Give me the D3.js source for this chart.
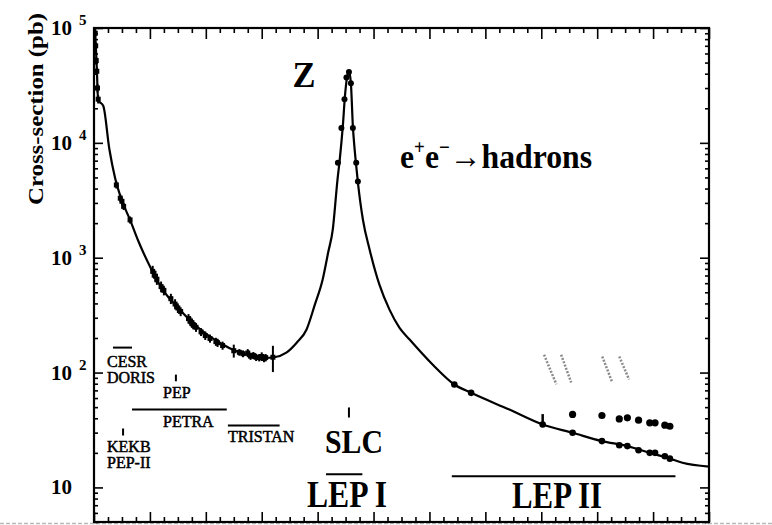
<!DOCTYPE html>
<meta charset="utf-8">
<style>
body { margin: 0; background: #fff; }
svg { display: block; }
text { font-family: "Liberation Serif", "Tinos", "DejaVu Serif", "Times New Roman", serif; }
.axis line { stroke: #000; stroke-width: 1.6px; }
.axis path { display: none; }
</style>
<svg width="772" height="525"></svg>
<script src="https://d3js.org/d3.v7.min.js"></script>
<script>

var serif = "Liberation Serif, Tinos, DejaVu Serif, Times New Roman, serif";

// theory curve (sqrt(s) in GeV, cross-section in pb)
var curveE = [0.36, 1.0, 1.5, 2.1, 3.3, 5.5, 7.5, 9.9, 12.9, 16, 20.6, 24.6, 30.7, 36.7, 45, 51, 56.8, 61, 64.5, 68.8, 72.5, 76, 79, 81.8, 83.8, 85.4, 87.1, 87.9, 89.0, 89.8, 90.5, 91.2, 91.9, 92.6, 93.2, 93.8, 94.5, 95.3, 96.2, 98.6, 102.1, 105.7, 109.3, 112.9, 121.2, 128.9, 134.9, 148.6, 160.5, 171.2, 181.7, 190.8, 198.8, 206, 210.5, 220];
var curveSigma = [100000, 45000, 23000, 22500, 21000, 8800, 5000, 3190, 2135, 1370, 787, 527, 353, 253, 182, 153, 138, 134, 136, 149, 182, 236, 390, 646, 1120, 1750, 4770, 7100, 13900, 26000, 37000, 42000, 33000, 14000, 9000, 6300, 4300, 3000, 2140, 1175, 582, 353, 245, 194, 117, 78.7, 66.6, 47.6, 35.3, 29.9, 25.3, 22.9, 20.0, 17.8, 16.4, 15.2];

// low energy measurements
var lowE = [0.45, 0.6, 0.8, 1.0, 1.25, 1.5, 8.0, 9.4, 10.0, 10.6, 12.9, 21, 22, 22.5, 24, 25, 27.5, 29, 30, 31, 33.8, 34.5, 35, 35.5, 36.5, 38.3, 39.8, 41.5, 43.6, 44.2, 46, 50, 52, 53.3, 55, 56, 57, 58, 59.1, 60, 60.8, 61.4, 64];
var lowSigma = [90000, 70000, 52000, 42000, 30000, 24000, 4300, 3300, 3100, 2800, 2135, 760, 690, 650, 560, 520, 440, 395, 365, 340, 295, 280, 270, 262, 248, 226, 210, 198, 186, 182, 172, 155, 150, 146, 148, 139, 141, 136, 135, 138, 133, 135, 136];
var lowErr = [6000, 5000, 4000, 3000, 2500, 2000, 300, 250, 250, 200, 150, 90, 80, 70, 60, 50, 45, 40, 35, 30, 28, 26, 25, 24, 22, 18, 18, 16, 15, 15, 14, 20, 10, 10, 12, 10, 10, 10, 10, 12, 10, 10, 35];

// Z peak measurements
var peakE = [87.25, 88.5, 89.6, 90.3, 91.2, 91.9, 92.6, 93.8, 94.4];
var peakSigma = [6700, 13500, 24000, 37000, 41400, 33000, 13500, 6700, 4600];

// LEP 1.5 / LEP II measurements
var lepE = [128.9, 134.9, 160.5, 171.2, 181.7, 187.9, 190.8, 194.8, 198.8, 200.7, 204.2, 206.0];
var lepSigma = [78.7, 66.6, 35.3, 29.9, 25.3, 23.3, 22.9, 21.1, 20.0, 20.0, 18.7, 17.8];
var lepHiE = [171.2, 181.7, 187.9, 190.8, 194.8, 198.8, 200.7, 204.2, 206.0];
var lepHiSigma = [43.2, 42.3, 39.5, 40.4, 38.5, 36.5, 36.5, 34.8, 34.1];
var barE = [160.5];
var barLo = [34.5];
var barHi = [43.5];

// faint hatched marks above LEP II points
var hatchE0 = [161.0, 167.1, 181.8, 187.9];
var hatchE1 = [165.4, 170.7, 185.4, 191.4];
var hatchTop = [143, 143, 138, 138];
var hatchBot = [79, 82, 82, 87];

// machines: energy ranges and the level they are drawn at
var rangeNames = ["CESR", "PETRA", "TRISTAN", "LEP I", "LEP II"];
var rangeLo = [6.8, 13.6, 47.9, 83, 128];
var rangeHi = [13.6, 47.5, 66.4, 96, 208];
var rangeSigma = [165, 47.6, 34.6, 13.0, 12.5];
var pointNames = ["PEP", "KEKB", "SLC"];
var pointE = [29.3, 10.4, 91.2];
var pointTop = [96, 32.6, 49.7];
var pointBot = [84, 28.3, 40.6];

var yDecades = [10, 100, 1000, 10000, 100000];
var yExp = [1, 2, 3, 4, 5];

var svg = d3.select("svg");
var x = d3.scaleLinear().domain([0, 220]).range([94, 709]);
var y = d3.scaleLog().domain([5, 100000]).range([522, 28]);

// scan edge line
svg.append("line")
	.attr("x1", 0).attr("x2", 772).attr("y1", 523.5).attr("y2", 523.5)
	.attr("stroke", "#b8b8b8").attr("stroke-width", 1.5).attr("stroke-dasharray", "4,2");

svg.append("defs").append("clipPath").attr("id", "clip")
	.append("rect").attr("x", 94).attr("y", 28).attr("width", 615).attr("height", 494);

var majorX = d3.range(0, 221, 20);
var minorX = d3.range(0, 221, 5).filter(function(d) { return d % 20 != 0; });
var minorY = y.ticks().filter(function(d) { return yDecades.indexOf(d) < 0 && d >= 5; });

function ax(gen, tx, ty, vals, size) {
	svg.append("g").attr("class", "axis")
		.attr("transform", "translate(" + tx + "," + ty + ")")
		.call(gen.tickValues(vals).tickSize(size).tickFormat(""));
}
ax(d3.axisTop(x), 0, 28, majorX, -11);
ax(d3.axisTop(x), 0, 28, minorX, -5);
ax(d3.axisBottom(x), 0, 522, majorX, -10);
ax(d3.axisBottom(x), 0, 522, minorX, -5);
ax(d3.axisLeft(y), 94, 0, yDecades, -9);
ax(d3.axisLeft(y), 94, 0, minorY, -4);
ax(d3.axisRight(y), 709, 0, yDecades, -9);
ax(d3.axisRight(y), 709, 0, minorY, -4);

svg.append("rect")
	.attr("x", 94).attr("y", 28).attr("width", 615).attr("height", 494)
	.attr("fill", "none").attr("stroke", "#000").attr("stroke-width", 2.2);

// y tick labels
yDecades.forEach(function(v, i) {
	svg.append("text").attr("font-family", serif)
		.attr("x", 51).attr("y", y(v) + 7)
		.style("font-size", "21px").style("font-weight", "bold")
		.text("10");
	if (yExp[i] > 1) {
		svg.append("text").attr("font-family", serif)
			.attr("x", 79).attr("y", y(v) - 3)
			.style("font-size", "15px").style("font-weight", "bold")
			.text(yExp[i]);
	}
});

svg.append("text").attr("font-family", serif)
	.attr("transform", "translate(43,109) rotate(-90)")
	.attr("text-anchor", "middle")
	.attr("textLength", 192).attr("lengthAdjust", "spacingAndGlyphs")
	.style("font-size", "20px").style("font-weight", "bold")
	.text("Cross-section (pb)");

var plot = svg.append("g").attr("clip-path", "url(#clip)");

var line = d3.line()
	.x(function(d) { return x(d[0]); })
	.y(function(d) { return y(d[1]); })
	.curve(d3.curveMonotoneX);

plot.append("path")
	.datum(curveE.map(function(e, i) { return [e, curveSigma[i]]; }))
	.attr("d", line)
	.attr("fill", "none").attr("stroke", "#000").attr("stroke-width", 2.2);

// low energy points with error bars
lowE.forEach(function(e, i) {
	plot.append("line")
		.attr("x1", x(e)).attr("x2", x(e))
		.attr("y1", y(lowSigma[i] + lowErr[i])).attr("y2", y(Math.max(lowSigma[i] - lowErr[i], 5)))
		.attr("stroke", "#000").attr("stroke-width", 2);
	plot.append("rect")
		.attr("x", x(e) - 2.5).attr("y", y(lowSigma[i]) - 2.5)
		.attr("width", 5).attr("height", 5).attr("fill", "#000");
});

peakE.forEach(function(e, i) {
	plot.append("circle").attr("cx", x(e)).attr("cy", y(peakSigma[i])).attr("r", 3).attr("fill", "#000");
});

lepE.forEach(function(e, i) {
	plot.append("circle").attr("cx", x(e)).attr("cy", y(lepSigma[i])).attr("r", 3.3).attr("fill", "#000");
});
lepHiE.forEach(function(e, i) {
	plot.append("circle").attr("cx", x(e)).attr("cy", y(lepHiSigma[i])).attr("r", 3.6).attr("fill", "#000");
});
barE.forEach(function(e, i) {
	plot.append("line").attr("x1", x(e)).attr("x2", x(e))
		.attr("y1", y(barHi[i])).attr("y2", y(barLo[i]))
		.attr("stroke", "#000").attr("stroke-width", 2.5);
});

hatchE0.forEach(function(e, i) {
	plot.append("line")
		.attr("x1", x(e)).attr("y1", y(hatchTop[i]))
		.attr("x2", x(hatchE1[i])).attr("y2", y(hatchBot[i]))
		.attr("stroke", "#8a8a8a").attr("stroke-width", 2.5).attr("stroke-dasharray", "2,1.5");
});

// machine ranges
rangeNames.forEach(function(n, i) {
	svg.append("line")
		.attr("x1", x(rangeLo[i])).attr("x2", x(rangeHi[i]))
		.attr("y1", y(rangeSigma[i])).attr("y2", y(rangeSigma[i]))
		.attr("stroke", "#000").attr("stroke-width", 2);
});
pointNames.forEach(function(n, i) {
	svg.append("line")
		.attr("x1", x(pointE[i])).attr("x2", x(pointE[i]))
		.attr("y1", y(pointTop[i])).attr("y2", y(pointBot[i]))
		.attr("stroke", "#000").attr("stroke-width", 2);
});

// small accelerator labels
var small = [["CESR", 107, 367], ["DORIS", 107, 383], ["PEP", 163, 398], ["PETRA", 163, 427],
	["TRISTAN", 228, 442], ["KEKB", 107, 452], ["PEP-II", 107, 468]];
small.forEach(function(s) {
	svg.append("text").attr("font-family", serif)
		.attr("x", s[1]).attr("y", s[2])
		.style("font-size", "16px")
		.attr("stroke", "#000").attr("stroke-width", 0.5)
		.text(s[0]);
});

function bigLabel(txt, cx, by, size, width) {
	svg.append("text").attr("font-family", serif)
		.attr("transform", "translate(" + cx + "," + by + ") scale(1,1.15)")
		.attr("text-anchor", "middle")
		.attr("textLength", width).attr("lengthAdjust", "spacingAndGlyphs")
		.style("font-size", size + "px").style("font-weight", "bold")
		.text(txt);
}
bigLabel("SLC", 354, 453, 30, 58);
bigLabel("LEP I", 347, 507, 33, 80);
bigLabel("LEP II", 557, 508, 33, 90);
bigLabel("Z", 304, 87, 31, 23);

var h = svg.append("text").attr("font-family", serif)
	.attr("transform", "translate(400,168) scale(1,1.15)")
	.attr("textLength", 192).attr("lengthAdjust", "spacingAndGlyphs")
	.style("font-size", "30px").style("font-weight", "bold");
h.append("tspan").text("e");
h.append("tspan").attr("dy", -12).style("font-size", "18px").text("+");
h.append("tspan").attr("dy", 12).text("e");
h.append("tspan").attr("dy", -12).style("font-size", "18px").text("\u2212");
h.append("tspan").attr("dy", 12).text("\u2192hadrons");

</script>
